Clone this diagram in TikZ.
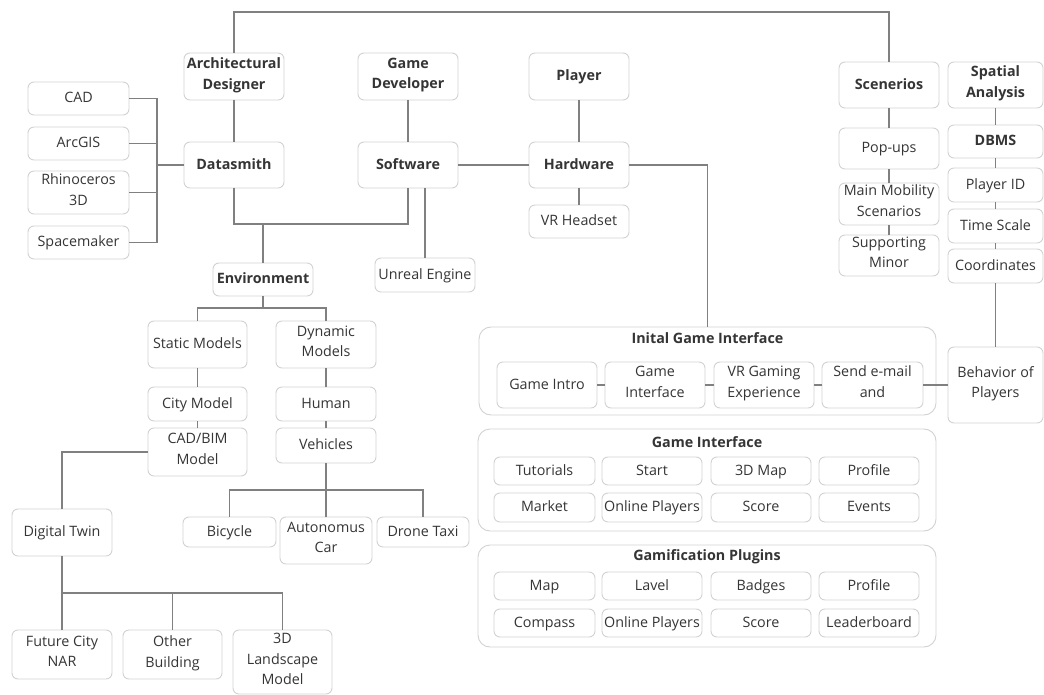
\documentclass[tikz,border=0pt]{standalone}
\usepackage{fontspec}
\setmainfont{Open Sans}
\definecolor{txt}{HTML}{353535}
\definecolor{ln}{HTML}{808080}
\definecolor{bd}{HTML}{D2D2D2}
\tikzset{
  box/.style={draw=bd, line width=0.9pt, rounded corners=6pt, fill=white, align=center,
    inner sep=0pt, text=txt, font=\fontsize{14.3}{20.7}\selectfont,
    execute at begin node=\strut, execute at end node=\strut},
  hbox/.style={font=\fontsize{14.3}{20.7}\selectfont\bfseries},
  panel/.style={draw=bd, line width=0.9pt, rounded corners=12pt, inner sep=0pt},
  ptitle/.style={text=txt, inner sep=0pt, font=\fontsize{14.3}{20.7}\selectfont\bfseries},
  conn/.style={draw=ln, line width=1.2pt},
}
\newcommand\bx[7][]{\node[box,#1,minimum width={(#5-#3)*1pt},minimum height={(#6-#4)*1pt}] (#2) at ({(#3+#5)/2},{(#4+#6)/2}) {#7};}
\newcommand\pn[5]{\node[panel,minimum width={(#4-#2)*1pt},minimum height={(#5-#3)*1pt}] (#1) at ({(#2+#4)/2},{(#3+#5)/2}) {};}
\begin{document}
\begin{tikzpicture}[x=1pt,y=-1pt]
\useasboundingbox (0,0) rectangle (1044,695);
\fill[white] (0,0) rectangle (1044,695);
% panels
\pn{igi}{479}{327}{936}{415}
\pn{gi}{478}{429}{936}{531}
\pn{gp}{478}{545}{936}{647}
\node[ptitle] (igit) at (707.5,338) {Inital Game Interface};
\node[ptitle] (git) at (707,442) {Game Interface};
\node[ptitle] (gpt) at (707,557) {Gamification Plugins};
% top-left
\bx[hbox]{arch}{184}{53}{284}{100}{Architectural\\Designer}
\bx[hbox]{gamedev}{358}{53}{458}{100}{Game\\Developer}
\bx[hbox]{player}{529}{53}{629}{100}{Player}
\bx[hbox]{datasmith}{184}{142}{284}{188}{Datasmith}
\bx[hbox]{software}{358}{142}{458}{188}{Software}
\bx[hbox]{hardware}{529}{142}{629}{188}{Hardware}
\bx{cad}{28}{82}{129}{115}{CAD}
\bx{arcgis}{28}{127}{129}{160}{ArcGIS}
\bx{rhino}{28}{171}{129}{214}{Rhinoceros\\3D}
\bx{space}{28}{226}{129}{259}{Spacemaker}
\bx{vr}{529}{205}{629}{238}{VR Headset}
\bx{unreal}{375}{258}{475}{292}{Unreal Engine}
\bx[hbox]{env}{213}{263}{313}{296}{Environment}
\bx{static}{148}{321}{247}{368}{Static Models}
\bx{dynamic}{276}{321}{376}{368}{Dynamic\\Models}
\bx{city}{148}{387}{247}{421}{City Model}
\bx{human}{276}{387}{376}{421}{Human}
\bx{cadbim}{148}{428}{247}{476}{CAD/BIM\\Model}
\bx{vehicles}{276}{428}{376}{463}{Vehicles}
\bx{bicycle}{183}{517}{276}{547}{Bicycle}
\bx{auto}{280}{517}{372}{564}{Autonomus\\Car}
\bx{drone}{377}{517}{469}{547}{Drone Taxi}
\bx{dtwin}{12}{509}{112}{556}{Digital Twin}
\bx{future}{12}{630}{112}{679}{Future City\\NAR}
\bx{other}{123}{630}{222}{679}{Other\\Building}
\bx{land}{233}{630}{332}{694}{3D\\Landscape\\Model}
% right
\bx[hbox]{scen}{839}{62}{939}{108}{Scenerios}
\bx[hbox]{spatial}{948}{62}{1043}{108}{Spatial\\Analysis}
\bx{popups}{839}{128}{939}{169}{Pop-ups}
\bx{mainmob}{839}{183}{939}{225}{Main Mobility\\Scenarios}
\bx{support}{839}{235}{939}{276}{Supporting\\Minor}
\bx[hbox]{dbms}{948}{125}{1043}{158}{DBMS}
\bx{pid}{948}{168}{1043}{202}{Player ID}
\bx{tscale}{948}{209}{1043}{243}{Time Scale}
\bx{coords}{948}{249}{1043}{283}{Coordinates}
\bx{behav}{948}{347}{1043}{423}{Behavior of\\Players}
% initial game interface
\bx{gintro}{497}{362}{597}{408}{Game Intro}
\bx{ginter}{605}{362}{705}{408}{Game\\Interface}
\bx{vrgame}{714}{362}{814}{408}{VR Gaming\\Experience}
\bx{email}{822}{362}{923}{408}{Send e-mail\\and}
% game interface grid
\bx{gia}{494}{457}{595}{485}{Tutorials}
\bx{gib}{602}{457}{702}{485}{Start}
\bx{gic}{711}{457}{811}{485}{3D Map}
\bx{gid}{819}{457}{919}{485}{Profile}
\bx{gie}{494}{493}{595}{522}{Market}
\bx{gif}{602}{493}{702}{522}{Online Players}
\bx{gig}{711}{493}{811}{522}{Score}
\bx{gih}{819}{493}{919}{522}{Events}
% gamification grid
\bx{gpa}{494}{572}{595}{600}{Map}
\bx{gpb}{602}{572}{702}{600}{Lavel}
\bx{gpc}{711}{572}{811}{600}{Badges}
\bx{gpd}{819}{572}{919}{600}{Profile}
\bx{gpe}{494}{609}{595}{637}{Compass}
\bx{gpf}{602}{609}{702}{637}{Online Players}
\bx{gpg}{711}{609}{811}{637}{Score}
\bx{gph}{819}{609}{919}{637}{Leaderboard}
% junction coordinates
\coordinate (jtop) at (0,12);
\coordinate (jds) at (157,165);
\coordinate (jsw) at (0,224);
\coordinate (jenv) at (0,308);
\coordinate (jveh) at (0,490);
\coordinate (jdt) at (0,593);
% connectors
\draw[conn] (arch.north) -- (arch.north |- jtop) -- (scen.north |- jtop) -- (scen.north);
\draw[conn] (arch) -- (datasmith);
\draw[conn] (cad.east) -- (cad.east -| jds) -- (space.east -| jds) -- (space.east);
\draw[conn] (arcgis.east) -- (arcgis.east -| jds);
\draw[conn] (rhino.east) -- (rhino.east -| jds);
\draw[conn] (jds) -- (datasmith.west);
\draw[conn] (gamedev) -- (software);
\draw[conn] (player) -- (hardware);
\draw[conn] (hardware) -- (vr);
\draw[conn] (software) -- (hardware);
\draw[conn] (datasmith.south) -- (datasmith.south |- jsw) -- (software.south |- jsw) -- (software.south);
\draw[conn] (env.north) -- (env.north |- jsw);
\draw[conn] (unreal.north) -- (unreal.north |- software.south);
\draw[conn] (hardware.east) -| (igi.north);
\draw[conn] (env.south) -- (env.south |- jenv);
\draw[conn] (static.north) -- (static.north |- jenv) -- (dynamic.north |- jenv) -- (dynamic.north);
\draw[conn] (static) -- (city);
\draw[conn] (city) -- (cadbim);
\draw[conn] (dynamic) -- (human);
\draw[conn] (human) -- (vehicles);
\draw[conn] (vehicles.south) -- (vehicles.south |- jveh);
\draw[conn] (bicycle.north) -- (bicycle.north |- jveh) -- (drone.north |- jveh) -- (drone.north);
\draw[conn] (auto.north) -- (auto.north |- jveh);
\draw[conn] (cadbim.west) -| (dtwin.north);
\draw[conn] (dtwin.south) -- (dtwin.south |- jdt);
\draw[conn] (future.north) -- (future.north |- jdt) -- (land.north |- jdt) -- (land.north);
\draw[conn] (other.north) -- (other.north |- jdt);
\draw[conn] (scen) -- (popups);
\draw[conn] (popups) -- (mainmob);
\draw[conn] (mainmob) -- (support);
\draw[conn] (spatial) -- (dbms);
\draw[conn] (dbms) -- (pid);
\draw[conn] (pid) -- (tscale);
\draw[conn] (tscale) -- (coords);
\draw[conn] (coords) -- (behav);
\draw[conn] (gintro) -- (ginter);
\draw[conn] (ginter) -- (vrgame);
\draw[conn] (vrgame) -- (email);
\draw[conn] (email) -- (behav);
\end{tikzpicture}
\end{document}
